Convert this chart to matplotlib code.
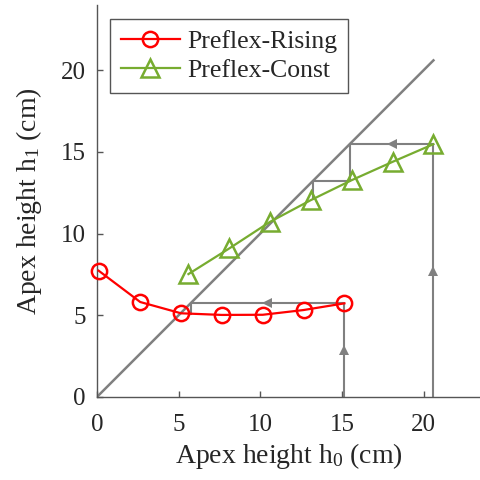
import numpy as np
import matplotlib
matplotlib.use("Agg")
import matplotlib.pyplot as plt

# ---- data ----
h0_rising = [0.1, 2.65, 5.15, 7.65, 10.15, 12.65, 15.15]
h1_rising = [7.73, 5.81, 5.12, 5.02, 5.03, 5.32, 5.73]
h0_const = [5.6, 8.1, 10.6, 13.1, 15.6, 18.1, 20.6]
h1_const = [7.52, 9.09, 10.72, 12.05, 13.27, 14.39, 15.47]
diag_max = 20.6
x_ticks = [0, 5, 10, 15, 20]
y_ticks = [0, 5, 10, 15, 20]
series_labels = ["Preflex-Rising", "Preflex-Const"]

plt.rcParams['font.family'] = ['Liberation Serif', 'DejaVu Serif']
plt.rcParams['mathtext.fontset'] = 'custom'
plt.rcParams['mathtext.rm'] = 'Liberation Serif'
plt.rcParams['mathtext.it'] = 'Liberation Serif:italic'

RED = '#FF0000'
GREEN = '#77AC30'
GRAY = '#808080'
TXT = '#262626'
AX = '#555555'

fig = plt.figure(figsize=(4.8, 4.8), dpi=100)
ax = fig.add_axes([0.202, 0.173, 0.798, 0.817])

# identity line
ax.plot([0, diag_max], [0, diag_max], color=GRAY, lw=1.8, zorder=2)


def cobweb(x_start, xs, ys, steps):
    px, py = [x_start], [0.0]
    x = x_start
    y = float(np.interp(x, xs, ys))
    px.append(x); py.append(y)
    arrows = [((x, y / 2), '^')]
    for i in range(steps):
        xm = (x + y) / 2
        if i == 0:
            arrows.append(((xm, y), '<'))
        x = y
        px.append(x); py.append(y)
        y = float(np.interp(x, xs, ys))
        px.append(x); py.append(y)
    return px, py, arrows


for xs, ys, steps in [(h0_rising, h1_rising, 1), (h0_const, h1_const, 2)]:
    px, py, arrows = cobweb(xs[-1], xs, ys, steps)
    ax.plot(px, py, color=GRAY, lw=1.5, zorder=2)
    for (ax_x, ax_y), m in arrows:
        ax.plot([ax_x], [ax_y], marker=m, color=GRAY, ms=7, mew=0, zorder=2)

ax.plot(h0_rising, h1_rising, color=RED, lw=1.6, marker='o', ms=11,
        mfc='none', mec=RED, mew=1.8, label=series_labels[0], zorder=3,
        clip_on=False)
ax.plot(h0_const, h1_const, color=GREEN, lw=1.6, marker='^', ms=13,
        mfc='none', mec=GREEN, mew=1.8, label=series_labels[1], zorder=3,
        clip_on=False)

ax.set_xlim(0, 23.45)
ax.set_ylim(0, 24)
ax.set_xticks(x_ticks)
ax.set_yticks(y_ticks)
ax.tick_params(direction='in', length=4, width=1, colors=AX, labelcolor=TXT,
               labelsize=18)
ax.tick_params(axis='x', pad=12)
ax.tick_params(axis='y', pad=8)
for s in ['top', 'right']:
    ax.spines[s].set_visible(False)
for s in ['left', 'bottom']:
    ax.spines[s].set_color(AX)
    ax.spines[s].set_linewidth(1.0)

ax.set_xlabel(r'Apex height h$_0$ (cm)', fontsize=20, color=TXT, labelpad=4)
ax.set_ylabel(r'Apex height h$_1$ (cm)', fontsize=20, color=TXT, labelpad=12)

leg = ax.legend(loc='upper left', bbox_to_anchor=(0.034, 0.964), borderaxespad=0,
                fontsize=18.5, handlelength=2.3, handletextpad=0.3,
                fancybox=False, edgecolor=AX, framealpha=1,
                borderpad=0.42, labelspacing=0.25)
leg.get_frame().set_linewidth(1.0)
for t in leg.get_texts():
    t.set_color(TXT)

fig.savefig('out.png', dpi=100)
